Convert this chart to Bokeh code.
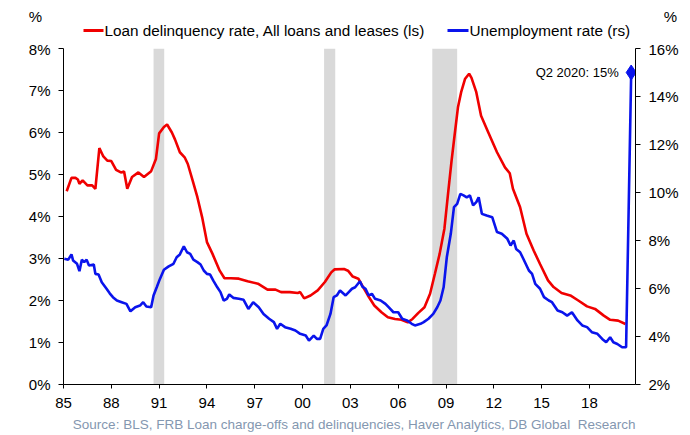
from bokeh.plotting import figure
from bokeh.layouts import column
from bokeh.models import (Range1d, LinearAxis, FixedTicker, Label, BoxAnnotation,
                          CustomJSTickFormatter)
from bokeh.core.properties import value
from bokeh.embed import file_html
from bokeh.resources import INLINE

FONT = "Liberation Sans"

# Loan delinquency rate, All loans and leases (%; left scale)
loan_year = [1985.2, 1985.5, 1985.75, 1985.9, 1986.0, 1986.2, 1986.5, 1986.8, 1987.0, 1987.25,
             1987.5, 1987.75, 1988.0, 1988.3, 1988.6, 1988.8, 1989.0, 1989.3, 1989.7, 1990.05,
             1990.5, 1990.8, 1991.0, 1991.3, 1991.5, 1991.8, 1992.0, 1992.3, 1992.6, 1992.8,
             1993.1, 1993.4, 1993.7, 1994.0, 1994.35, 1994.8, 1995.1, 1995.5, 1996.0, 1996.55,
             1997.2, 1997.8, 1998.3, 1998.65, 1999.2, 1999.7, 1999.85, 2000.1, 2000.5, 2000.95,
             2001.4, 2001.8, 2002.0, 2002.6, 2002.85, 2003.15, 2003.5, 2003.8, 2004.1, 2004.5,
             2004.95, 2005.35, 2005.8, 2006.2, 2006.6, 2006.9, 2007.25, 2007.65, 2008.0, 2008.3,
             2008.6, 2008.9, 2009.15, 2009.35, 2009.55, 2009.75, 2009.95, 2010.2, 2010.45, 2010.6,
             2010.9, 2011.2, 2011.6, 2012.2, 2012.7, 2013.0, 2013.2, 2013.65, 2014.05, 2014.5,
             2014.9, 2015.4, 2015.75, 2016.25, 2016.8, 2017.3, 2017.85, 2018.35, 2018.9, 2019.3,
             2019.8, 2020.26]
loan_rate = [4.60, 4.92, 4.92, 4.88, 4.78, 4.86, 4.74, 4.74, 4.66, 5.63,
             5.43, 5.33, 5.32, 5.11, 5.05, 5.07, 4.66, 4.94, 5.05, 4.94,
             5.08, 5.37, 5.98, 6.13, 6.19, 6.00, 5.83, 5.53, 5.41, 5.25,
             4.86, 4.46, 3.98, 3.39, 3.11, 2.71, 2.53, 2.53, 2.52, 2.46,
             2.40, 2.26, 2.26, 2.20, 2.20, 2.18, 2.20, 2.05, 2.12, 2.24,
             2.44, 2.67, 2.74, 2.75, 2.71, 2.57, 2.52, 2.32, 2.12, 1.88,
             1.72, 1.60, 1.56, 1.54, 1.48, 1.56, 1.70, 1.84, 2.16, 2.63,
             3.11, 3.71, 4.62, 5.33, 5.97, 6.60, 6.96, 7.28, 7.40, 7.30,
             6.96, 6.40, 6.05, 5.53, 5.17, 5.03, 4.66, 4.22, 3.59, 3.19,
             2.87, 2.48, 2.32, 2.18, 2.12, 2.00, 1.86, 1.80, 1.64, 1.54,
             1.52, 1.44]

# Unemployment rate (%; right scale)
unemp_year = [1985.05, 1985.3, 1985.5, 1985.6, 1985.85, 1986.0, 1986.15, 1986.3, 1986.45, 1986.6,
              1986.9, 1987.0, 1987.2, 1987.4, 1987.7, 1987.9, 1988.1, 1988.35, 1988.65, 1988.95,
              1989.2, 1989.5, 1989.8, 1990.0, 1990.2, 1990.5, 1990.65, 1990.85, 1991.05, 1991.3,
              1991.6, 1991.9, 1992.1, 1992.3, 1992.55, 1992.75, 1992.95, 1993.15, 1993.4, 1993.6,
              1993.8, 1994.0, 1994.2, 1994.4, 1994.65, 1994.85, 1995.05, 1995.25, 1995.4, 1995.65,
              1996.0, 1996.3, 1996.6, 1996.9, 1997.25, 1997.55, 1997.9, 1998.2, 1998.4, 1998.6,
              1998.9, 1999.25, 1999.55, 1999.85, 2000.2, 2000.4, 2000.7, 2000.9, 2001.1, 2001.3,
              2001.5, 2001.75, 2001.95, 2002.15, 2002.35, 2002.7, 2002.9, 2003.1, 2003.3, 2003.6,
              2003.75, 2003.95, 2004.15, 2004.35, 2004.55, 2004.9, 2005.2, 2005.4, 2005.7, 2006.0,
              2006.25, 2006.55, 2006.85, 2007.05, 2007.4, 2007.6, 2007.9, 2008.2, 2008.45, 2008.65,
              2008.85, 2009.05, 2009.3, 2009.5, 2009.7, 2009.9, 2010.1, 2010.3, 2010.5, 2010.7,
              2010.9, 2011.05, 2011.25, 2011.55, 2011.9, 2012.2, 2012.5, 2012.85, 2013.05, 2013.25,
              2013.4, 2013.65, 2013.85, 2014.2, 2014.4, 2014.6, 2014.9, 2015.15, 2015.45, 2015.65,
              2016.0, 2016.3, 2016.6, 2016.9, 2017.25, 2017.55, 2017.85, 2018.15, 2018.5, 2018.8,
              2019.05, 2019.3, 2019.5, 2019.75, 2020.05, 2020.3, 2020.62]
unemp_rate = [7.24, 7.20, 7.42, 7.17, 7.03, 6.72, 7.20, 7.10, 7.20, 6.96,
              7.00, 6.61, 6.58, 6.26, 5.99, 5.80, 5.64, 5.50, 5.43, 5.36,
              5.05, 5.22, 5.29, 5.43, 5.25, 5.22, 5.71, 6.05, 6.40, 6.78,
              6.92, 7.03, 7.30, 7.42, 7.76, 7.51, 7.44, 7.20, 7.10, 7.00,
              6.75, 6.61, 6.58, 6.33, 6.05, 5.85, 5.50, 5.57, 5.75, 5.61,
              5.57, 5.53, 5.15, 5.43, 5.22, 4.94, 4.74, 4.60, 4.32, 4.53,
              4.39, 4.32, 4.25, 4.11, 4.04, 3.83, 4.04, 3.90, 3.90, 4.32,
              4.46, 4.94, 5.64, 5.71, 5.92, 5.71, 5.85, 5.99, 6.05, 6.30,
              6.08, 5.99, 5.71, 5.78, 5.57, 5.50, 5.36, 5.22, 5.01, 5.01,
              4.74, 4.67, 4.53, 4.46, 4.53, 4.60, 4.74, 4.94, 5.22, 5.50,
              6.05, 7.30, 8.28, 9.39, 9.53, 9.94, 9.88, 9.80, 9.88, 9.46,
              9.60, 9.80, 9.11, 9.04, 8.97, 8.35, 8.28, 8.07, 7.79, 8.00,
              7.65, 7.51, 7.24, 6.75, 6.61, 6.19, 5.99, 5.64, 5.50, 5.43,
              5.08, 5.01, 4.87, 5.01, 4.67, 4.46, 4.39, 4.18, 4.11, 3.90,
              3.76, 3.97, 3.76, 3.69, 3.55, 3.55, 15.0]

# Recession periods (shaded)
rec_start = [1990.65, 2001.35, 2008.14]
rec_end = [1991.32, 2002.05, 2009.7]

# Q2 2020 point
q2_year = [2020.62]
q2_rate = [15.0]

left_ticks = [0, 1, 2, 3, 4, 5, 6, 7, 8]
right_ticks = [2, 4, 6, 8, 10, 12, 14, 16]
x_ticks = [1985, 1988, 1991, 1994, 1997, 2000, 2003, 2006, 2009, 2012, 2015, 2018]
x_labels = ["85", "88", "91", "94", "97", "00", "03", "06", "09", "12", "15", "18"]

series_names = ["Loan delinquency rate, All loans and leases (ls)", "Unemployment rate (rs)"]
source_text = "Source: BLS, FRB Loan charge-offs and delinquencies, Haver Analytics, DB Global\u00a0 Research"

RED = "#F00000"
BLUE = "#0A14EC"
SRC = "#8497B0"
W = 690


def blank(height):
    f = figure(width=W, height=height, output_backend="svg", toolbar_location=None,
               x_range=Range1d(0, W), y_range=Range1d(height, 0),
               x_axis_location=None, y_axis_location=None,
               min_border=0, min_border_left=0, min_border_right=0,
               min_border_top=0, min_border_bottom=0, frame_align=False)
    f.outline_line_color = None
    f.xgrid.visible = False
    f.ygrid.visible = False
    f.border_fill_color = "white"
    f.background_fill_color = "white"
    return f


# ---- header: unit labels and legend ----
top = blank(40)
top.text(x=[35, 670], y=[16, 16], text=["%", "%"], text_align="center", text_baseline="middle",
         text_font=value(FONT), text_font_size=value("15px"), text_color="black")
top.segment(x0=[83], y0=[30], x1=[103], y1=[30], line_color=RED, line_width=3)
top.segment(x0=[447], y0=[30], x1=[468], y1=[30], line_color=BLUE, line_width=3)
top.text(x=[104, 469], y=[30, 30], text=series_names, text_align="left", text_baseline="middle",
         text_font=value(FONT), text_font_size=value("15.3px"), text_color="black")

# ---- main chart ----
p = figure(width=W, height=374, output_backend="svg", toolbar_location=None,
           x_range=Range1d(1985, 2020.89), y_range=Range1d(0, 8),
           min_border_left=63, min_border_right=55, min_border_top=8, min_border_bottom=30,
           frame_align=False)
p.outline_line_color = None
p.xgrid.visible = False
p.ygrid.visible = False
p.background_fill_color = "white"
p.border_fill_color = "white"
p.extra_y_ranges = {"u": Range1d(2, 16)}

for s, e in zip(rec_start, rec_end):
    p.add_layout(BoxAnnotation(left=s, right=e, fill_color="#D9D9D9", fill_alpha=1.0,
                               line_color=None, level="underlay"))

p.line(loan_year, loan_rate, line_color=RED, line_width=2.6)
p.line(unemp_year, unemp_rate, line_color=BLUE, line_width=2.6, y_range_name="u")
p.scatter(q2_year, q2_rate, marker="diamond", size=15, fill_color=BLUE, line_color=BLUE,
          y_range_name="u")


def style_axis(ax):
    ax.axis_line_color = "black"
    ax.axis_line_width = 1
    ax.major_tick_line_color = "black"
    ax.major_tick_in = 0
    ax.major_tick_out = 5
    ax.minor_tick_line_color = None
    ax.major_label_text_font = FONT
    ax.major_label_text_font_size = "15px"
    ax.major_label_text_color = "black"
    ax.major_label_standoff = 8


xa = p.xaxis[0]
style_axis(xa)
xa.ticker = FixedTicker(ticks=x_ticks)
xa.major_label_overrides = {t: l for t, l in zip(x_ticks, x_labels)}
xa.major_tick_out = 4
xa.major_label_standoff = 9

ya = p.yaxis[0]
style_axis(ya)
ya.ticker = FixedTicker(ticks=left_ticks)
ya.formatter = CustomJSTickFormatter(code="return tick.toFixed(0) + '%';")

ra = LinearAxis(y_range_name="u")
style_axis(ra)
ra.ticker = FixedTicker(ticks=right_ticks)
ra.formatter = CustomJSTickFormatter(code="return tick.toFixed(0) + '%';")
p.add_layout(ra, "right")

p.add_layout(Label(x=2019.84, y=15.0, y_range_name="u", text="Q2 2020: 15%", text_align="right",
                   text_baseline="middle", text_font=FONT, text_font_size="13px", text_color="black"))

# ---- footer: source ----
bottom = blank(21)
bottom.text(x=[354], y=[10], text=[source_text], text_align="center", text_baseline="middle",
            text_font=value(FONT), text_font_size=value("13.5px"), text_color=SRC)

layout = column(top, p, bottom, spacing=0)
open("out.html", "w").write(file_html(layout, INLINE))
